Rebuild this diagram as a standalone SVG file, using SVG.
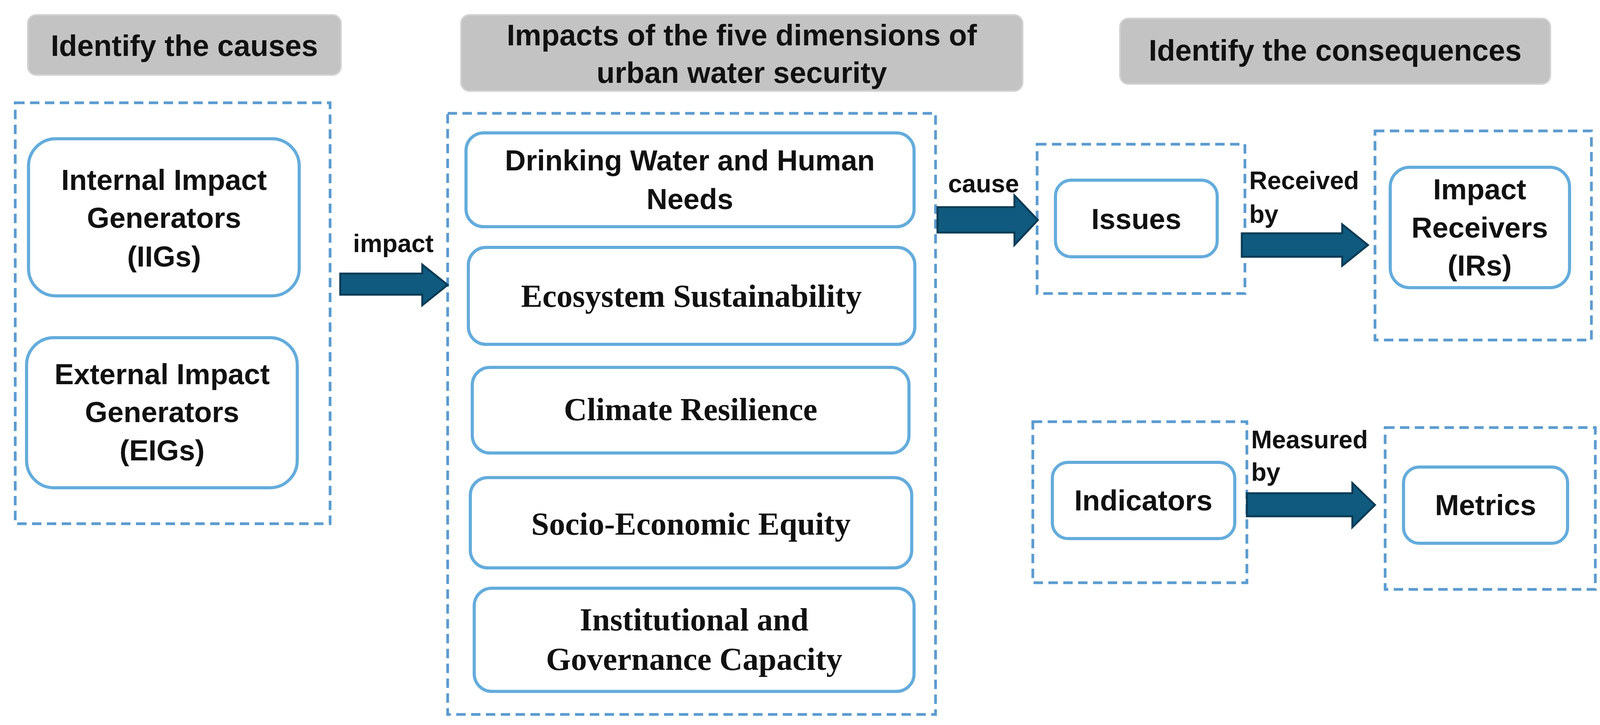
<svg xmlns="http://www.w3.org/2000/svg" width="4113" height="1855" viewBox="0 0 4113 1855">
<style>
.hdr{fill:#c3c3c3;stroke:#d3d3d3;stroke-width:4}
.dash{fill:none;stroke:#5b9bd0;stroke-width:7;stroke-dasharray:24,14}
.box{fill:#fff;stroke:#64acdc;stroke-width:8}
.s{font-family:"Liberation Sans",Arial,sans-serif;font-weight:bold;font-size:74px;fill:#111;text-anchor:middle}
.r{font-family:"Liberation Serif","Times New Roman",serif;font-weight:bold;font-size:82px;fill:#111;text-anchor:middle}
.h{font-family:"Liberation Sans",Arial,sans-serif;font-weight:bold;font-size:76px;fill:#111;text-anchor:middle}
.l{font-family:"Liberation Sans",Arial,sans-serif;font-weight:bold;font-size:64px;fill:#111}
.arr{fill:#0f5a7e;stroke:#0a3b55;stroke-width:5}
</style>
<rect width="4113" height="1855" fill="#fff"/>
<g id="header-causes"><rect class="hdr" x="71" y="38" width="802" height="154" rx="22"/><text class="h" x="472" y="143">Identify the causes</text></g>
<g id="header-impacts"><rect class="hdr" x="1180" y="38" width="1438" height="195" rx="22"/><text class="h" x="1899" y="116">Impacts of the five dimensions of</text><text class="h" x="1899" y="212">urban water security</text></g>
<g id="header-consequences"><rect class="hdr" x="2867" y="47" width="1102" height="168" rx="22"/><text class="h" x="3418" y="155">Identify the consequences</text></g>

<g id="group-causes"><rect class="dash" x="39" y="263" width="806" height="1077"/></g>
<g id="iig"><rect class="box" x="73" y="355" width="693" height="402" rx="70"/><text class="s" x="420" y="486">Internal Impact</text><text class="s" x="420" y="583">Generators</text><text class="s" x="420" y="682">(IIGs)</text></g>
<g id="eig"><rect class="box" x="68" y="864" width="693" height="384" rx="70"/><text class="s" x="415" y="983">External Impact</text><text class="s" x="415" y="1080">Generators</text><text class="s" x="415" y="1178">(EIGs)</text></g>

<g id="group-dimensions"><rect class="dash" x="1146" y="290" width="1249" height="1538"/></g>
<g id="d1"><rect class="box" x="1193" y="340" width="1147" height="240" rx="45"/><text class="s" x="1766" y="436">Drinking Water and Human</text><text class="s" x="1766" y="535">Needs</text></g>
<g id="d2"><rect class="box" x="1199" y="633" width="1143" height="248" rx="45"/><text class="r" x="1770" y="785">Ecosystem Sustainability</text></g>
<g id="d3"><rect class="box" x="1209" y="940" width="1118" height="219" rx="45"/><text class="r" x="1768" y="1075">Climate Resilience</text></g>
<g id="d4"><rect class="box" x="1204" y="1222" width="1130" height="231" rx="45"/><text class="r" x="1769" y="1368">Socio-Economic Equity</text></g>
<g id="d5"><rect class="box" x="1214" y="1505" width="1126" height="264" rx="45"/><text class="r" x="1777" y="1613">Institutional and</text><text class="r" x="1777" y="1714">Governance Capacity</text></g>

<g id="group-issues"><rect class="dash" x="2655" y="369" width="532" height="382"/></g>
<g id="issues"><rect class="box" x="2702" y="461" width="414" height="196" rx="40"/><text class="s" x="2909" y="586">Issues</text></g>
<g id="group-ir"><rect class="dash" x="3520" y="335" width="554" height="535"/></g>
<g id="ir"><rect class="box" x="3559" y="428" width="459" height="308" rx="50"/><text class="s" x="3788" y="510">Impact</text><text class="s" x="3788" y="608">Receivers</text><text class="s" x="3788" y="705">(IRs)</text></g>
<g id="group-indicators"><rect class="dash" x="2644" y="1079" width="548" height="412"/></g>
<g id="indicators"><rect class="box" x="2694" y="1183" width="467" height="195" rx="40"/><text class="s" x="2927" y="1306">Indicators</text></g>
<g id="group-metrics"><rect class="dash" x="3546" y="1094" width="538" height="414"/></g>
<g id="metrics"><rect class="box" x="3593" y="1195" width="420" height="195" rx="40"/><text class="s" x="3803" y="1318">Metrics</text></g>

<g id="connectors">
<polygon class="arr" points="871,700 1081,700 1081,677 1146,729 1081,781 1081,754 871,754"/>
<text class="l" x="1007" y="645" text-anchor="middle">impact</text>
<polygon class="arr" points="2400,530 2597,530 2597,500 2657,563 2597,627 2597,595 2400,595"/>
<text class="l" x="2518" y="492" text-anchor="middle">cause</text>
<polygon class="arr" points="3179,597 3436,597 3436,574 3502,627 3436,680 3436,657 3179,657"/>
<text class="l" x="3198" y="484">Received</text><text class="l" x="3198" y="570">by</text>
<polygon class="arr" points="3192,1262 3462,1262 3462,1236 3520,1292 3462,1349 3462,1321 3192,1321"/>
<text class="l" x="3203" y="1147">Measured</text><text class="l" x="3203" y="1230">by</text>
</g>
</svg>
